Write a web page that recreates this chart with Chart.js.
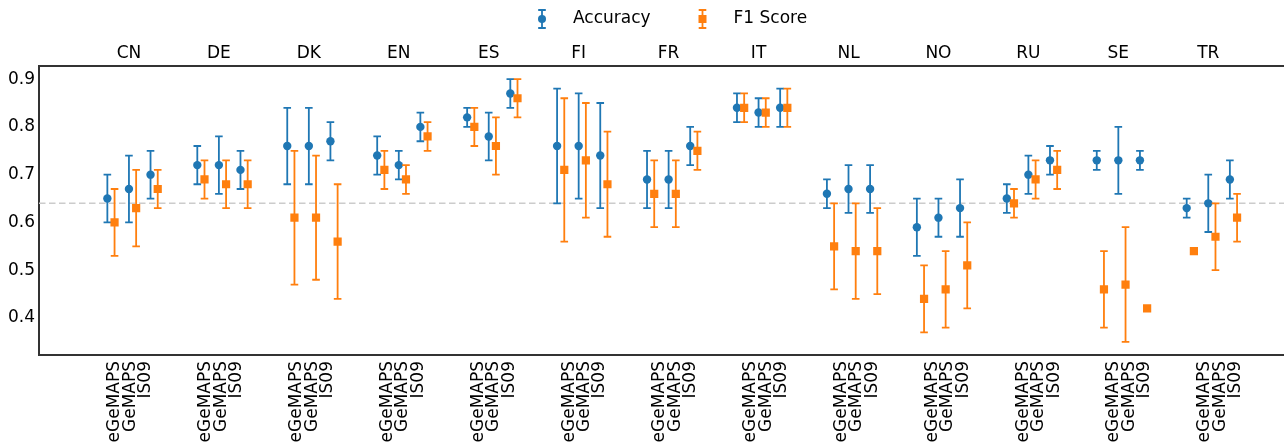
<!DOCTYPE html>
<html>
<head>
<meta charset="utf-8">
<script src="https://cdn.jsdelivr.net/npm/chart.js@4.4.1/dist/chart.umd.min.js"></script>
<style>
  html, body { margin: 0; padding: 0; background: #fff; overflow: hidden; }
  #chart { display: block; }
</style>
</head>
<body>
<canvas id="chart" width="1290" height="442"></canvas>
<script>
const languages = ['CN', 'DE', 'DK', 'EN', 'ES', 'FI', 'FR', 'IT', 'NL', 'NO', 'RU', 'SE', 'TR'];
const featureSets = ['eGeMAPS', 'GeMAPS', 'IS09'];
const yTicks = [0.4, 0.5, 0.6, 0.7, 0.8, 0.9];
const chanceLevel = 0.64;

// one row per language: eGeMAPS, GeMAPS, IS09
const accMean = [
    0.65, 0.67, 0.70,   // CN
    0.72, 0.72, 0.71,   // DE
    0.76, 0.76, 0.77,   // DK
    0.74, 0.72, 0.80,   // EN
    0.82, 0.78, 0.87,   // ES
    0.76, 0.76, 0.74,   // FI
    0.69, 0.69, 0.76,   // FR
    0.84, 0.83, 0.84,   // IT
    0.66, 0.67, 0.67,   // NL
    0.59, 0.61, 0.63,   // NO
    0.65, 0.70, 0.73,   // RU
    0.73, 0.73, 0.73,   // SE
    0.63, 0.64, 0.69    // TR
];
const accStd = [
    0.05, 0.07, 0.05,
    0.04, 0.06, 0.04,
    0.08, 0.08, 0.04,
    0.04, 0.03, 0.03,
    0.02, 0.05, 0.03,
    0.12, 0.11, 0.11,
    0.06, 0.06, 0.04,
    0.03, 0.03, 0.04,
    0.03, 0.05, 0.05,
    0.06, 0.04, 0.06,
    0.03, 0.04, 0.03,
    0.02, 0.07, 0.02,
    0.02, 0.06, 0.04
];
const f1Mean = [
    0.60, 0.63, 0.67,
    0.69, 0.68, 0.68,
    0.61, 0.61, 0.56,
    0.71, 0.69, 0.78,
    0.80, 0.76, 0.86,
    0.71, 0.73, 0.68,
    0.66, 0.66, 0.75,
    0.84, 0.83, 0.84,
    0.55, 0.54, 0.54,
    0.44, 0.46, 0.51,
    0.64, 0.69, 0.71,
    0.46, 0.47, 0.42,
    0.54, 0.57, 0.61
];
const f1Std = [
    0.07, 0.08, 0.04,
    0.04, 0.05, 0.05,
    0.14, 0.13, 0.12,
    0.04, 0.03, 0.03,
    0.04, 0.06, 0.04,
    0.15, 0.12, 0.11,
    0.07, 0.07, 0.04,
    0.03, 0.03, 0.04,
    0.09, 0.10, 0.09,
    0.07, 0.08, 0.09,
    0.03, 0.04, 0.04,
    0.08, 0.12, 0.005,
    0.005, 0.07, 0.05
];

const BLUE = '#1f77b4';
const ORANGE = '#ff7f0e';
const spread = 0.24;     // distance between feature sets inside a group
const f1Shift = 0.08;    // F1 markers sit a little right of accuracy

function toPoints(mean, std, shift) {
    return mean.map((m, i) => ({
        x: Math.floor(i / 3) + (i % 3 - 1) * spread + shift,
        y: m,
        err: std[i]
    }));
}

// tick label positions of the feature-set names (they drift a bit in the original)
const featureTicks = [];
languages.forEach((l, g) => {
    featureSets.forEach((f, j) => featureTicks.push(g * 1.0097 - 0.155 + j * 0.172));
});
const langTicks = languages.map((l, g) => g);

// y limits like matplotlib's auto margins
const lows = accMean.map((m, i) => m - accStd[i]).concat(f1Mean.map((m, i) => m - f1Std[i]));
const highs = accMean.map((m, i) => m + accStd[i]).concat(f1Mean.map((m, i) => m + f1Std[i]));
const dataLo = Math.min(...lows), dataHi = Math.max(...highs);
const yMin = dataLo - 0.05 * (dataHi - dataLo);
const yMax = dataHi + 0.05 * (dataHi - dataLo);

Chart.defaults.font.family = "'DejaVu Sans', sans-serif";
Chart.defaults.font.size = 17;
Chart.defaults.color = '#000';

const errorBars = {
    id: 'errorBars',
    beforeDatasetDraw(chart, args) {
        const ds = chart.data.datasets[args.index];
        const y = chart.scales.y;
        const ctx = chart.ctx;
        ctx.save();
        ctx.strokeStyle = ds.backgroundColor;
        ctx.lineWidth = 1.8;
        args.meta.data.forEach((pt, i) => {
            const d = ds.data[i];
            const top = y.getPixelForValue(d.y + d.err);
            const bot = y.getPixelForValue(d.y - d.err);
            ctx.beginPath();
            ctx.moveTo(pt.x, top);
            ctx.lineTo(pt.x, bot);
            ctx.moveTo(pt.x - 3.8, top);
            ctx.lineTo(pt.x + 3.8, top);
            ctx.moveTo(pt.x - 3.8, bot);
            ctx.lineTo(pt.x + 3.8, bot);
            ctx.stroke();
        });
        ctx.restore();
    }
};

const chanceLine = {
    id: 'chanceLine',
    beforeDatasetsDraw(chart) {
        const {ctx, chartArea} = chart;
        const py = chart.scales.y.getPixelForValue(chanceLevel);
        ctx.save();
        ctx.strokeStyle = '#cccccc';
        ctx.lineWidth = 1.5;
        ctx.setLineDash([6.5, 3.5]);
        ctx.beginPath();
        ctx.moveTo(chartArea.left, py);
        ctx.lineTo(chartArea.right, py);
        ctx.stroke();
        ctx.restore();
    }
};

// legend with errorbar-style icons
const errorLegend = {
    id: 'errorLegend',
    afterDraw(chart) {
        const ctx = chart.ctx;
        const cy = 19;
        chart.data.datasets.forEach((ds, i) => {
            const cx = 542 + i * 160.5;
            ctx.save();
            ctx.strokeStyle = ds.backgroundColor;
            ctx.fillStyle = ds.backgroundColor;
            ctx.lineWidth = 1.8;
            ctx.beginPath();
            ctx.moveTo(cx, cy - 9);
            ctx.lineTo(cx, cy + 9);
            ctx.moveTo(cx - 3.8, cy - 9);
            ctx.lineTo(cx + 3.8, cy - 9);
            ctx.moveTo(cx - 3.8, cy + 9);
            ctx.lineTo(cx + 3.8, cy + 9);
            ctx.stroke();
            if (ds.pointStyle === 'rect') {
                ctx.fillRect(cx - 4, cy - 4, 8, 8);
            } else {
                ctx.beginPath();
                ctx.arc(cx, cy, 4, 0, Math.PI * 2);
                ctx.fill();
            }
            ctx.fillStyle = '#000';
            ctx.font = "17px 'DejaVu Sans', sans-serif";
            ctx.textBaseline = 'middle';
            ctx.fillText(ds.label, cx + 31, cy);
            ctx.restore();
        });
    }
};

const frame = { display: true, color: '#333333', width: 2 };

new Chart(document.getElementById('chart'), {
    type: 'scatter',
    data: {
        datasets: [{
            label: 'Accuracy',
            data: toPoints(accMean, accStd, 0),
            backgroundColor: BLUE,
            pointStyle: 'circle',
            pointRadius: 4.2,
            pointBorderWidth: 0,
            order: 1
        }, {
            label: 'F1 Score',
            data: toPoints(f1Mean, f1Std, f1Shift),
            backgroundColor: ORANGE,
            pointStyle: 'rect',
            pointRadius: 5.8,
            pointBorderWidth: 0,
            order: 0
        }]
    },
    options: {
        responsive: false,
        animation: false,
        devicePixelRatio: 1,
        events: [],
        // canvas is a bit wider than the window: the plot runs off the right edge in the original
        layout: { padding: 0 },
        plugins: {
            legend: { display: false },
            tooltip: { enabled: false }
        },
        scales: {
            x: {
                type: 'linear',
                position: 'bottom',
                min: -1,
                max: 12.844,
                grid: { display: false, drawTicks: false },
                border: frame,
                afterBuildTicks: s => { s.ticks = featureTicks.map(v => ({ value: v })); },
                afterFit: s => { s.height = 87; },
                ticks: {
                    autoSkip: false,
                    minRotation: 90,
                    maxRotation: 90,
                    padding: 6,
                    callback: (v, i) => featureSets[i % 3]
                }
            },
            x2: {
                type: 'linear',
                position: 'top',
                min: -1,
                max: 12.844,
                grid: { display: false, drawTicks: false },
                border: frame,
                afterBuildTicks: s => { s.ticks = langTicks.map(v => ({ value: v })); },
                afterFit: s => { s.height = 66; },
                ticks: {
                    autoSkip: false,
                    maxRotation: 0,
                    padding: 2,
                    callback: (v, i) => languages[i]
                }
            },
            y: {
                min: yMin,
                max: yMax,
                grid: { display: false, drawTicks: false },
                border: frame,
                afterBuildTicks: s => { s.ticks = yTicks.map(v => ({ value: v })); },
                afterFit: s => { s.width = 39; },
                ticks: {
                    padding: 4,
                    callback: v => v.toFixed(1)
                }
            }
        }
    },
    plugins: [chanceLine, errorBars, errorLegend]
});
</script>
</body>
</html>
